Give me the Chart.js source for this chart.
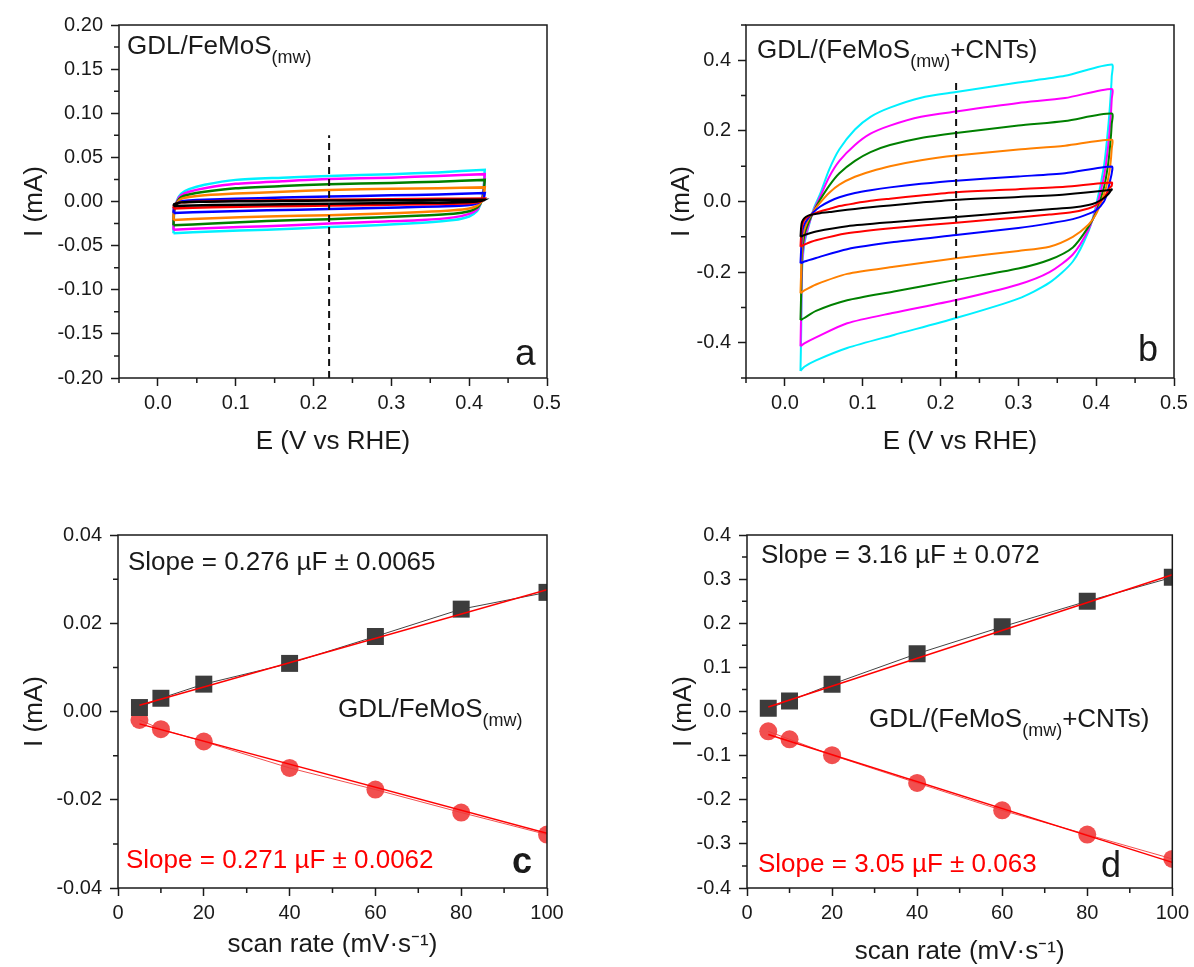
<!DOCTYPE html>
<html>
<head>
<meta charset="utf-8">
<title>CV and double-layer capacitance</title>
<script src="https://cdn.jsdelivr.net/npm/chart.js@4.4.1/dist/chart.umd.min.js"></script>
<style>
  body { margin: 0; background: #fff; }
  #wrap { position: relative; width: 1194px; height: 967px; }
  canvas { position: absolute; }
</style>
</head>
<body>
<div id="wrap">
  <canvas id="chart-a" width="597" height="483" style="left:0;top:0"></canvas>
  <canvas id="chart-b" width="597" height="483" style="left:597px;top:0"></canvas>
  <canvas id="chart-c" width="597" height="484" style="left:0;top:483px"></canvas>
  <canvas id="chart-d" width="597" height="484" style="left:597px;top:483px"></canvas>
</div>
<script>
  const FONT = '"Liberation Sans", Arial, sans-serif';
  const INK = "#1a1a1a";

  const scanRates = [5, 10, 20, 40, 60, 80, 100];
  const curveColors = ["#000000", "#ff0000", "#0000ff", "#ff8000", "#008000", "#ff00ff", "#00f0ff"];

  // panel a: GDL/FeMoS(mw), one loop per scan rate (mA)
  const aFwdE = [0.02, 0.021, 0.025, 0.03, 0.04, 0.06, 0.1, 0.16, 0.22, 0.3, 0.36, 0.42];
  const aFwdI = [
    [-0.005, -0.003, -0.002, -0.001, -0.0005, -0.0003, 0.0002, 0.0006, 0.001, 0.0014, 0.0017, 0.002],
    [-0.008, -0.004, -0.002, -0.001, -0.0005, 0.0, 0.0008, 0.0014, 0.002, 0.0026, 0.003, 0.0035],
    [-0.013, -0.005, -0.002, 0.0, 0.001, 0.002, 0.003, 0.0045, 0.0057, 0.007, 0.008, 0.0095],
    [-0.021, -0.008, -0.001, 0.003, 0.005, 0.007, 0.009, 0.011, 0.013, 0.0145, 0.015, 0.016],
    [-0.027, -0.009, 0.0, 0.005, 0.008, 0.011, 0.015, 0.0175, 0.0195, 0.021, 0.0225, 0.0245],
    [-0.032, -0.01, 0.001, 0.007, 0.011, 0.015, 0.02, 0.023, 0.0255, 0.027, 0.029, 0.031],
    [-0.036, -0.012, 0.002, 0.009, 0.014, 0.019, 0.0245, 0.027, 0.029, 0.031, 0.033, 0.036],
  ];
  const aRevE = [0.42, 0.419, 0.417, 0.414, 0.41, 0.4, 0.38, 0.34, 0.28, 0.22, 0.14, 0.07, 0.02];
  const aRevI = [
    [0.002, 0.0015, 0.001, 0.0005, 0.0, -0.0005, -0.001, -0.0015, -0.002, -0.0026, -0.0033, -0.004, -0.005],
    [0.0035, 0.002, 0.001, 0.0, -0.001, -0.002, -0.0025, -0.003, -0.004, -0.0045, -0.0055, -0.0065, -0.008],
    [0.0095, 0.005, 0.002, 0.0, -0.002, -0.004, -0.005, -0.006, -0.0075, -0.0085, -0.01, -0.0115, -0.013],
    [0.016, 0.008, 0.002, -0.002, -0.005, -0.008, -0.01, -0.012, -0.014, -0.0155, -0.017, -0.019, -0.021],
    [0.0245, 0.013, 0.003, -0.003, -0.007, -0.011, -0.014, -0.016, -0.018, -0.02, -0.022, -0.025, -0.027],
    [0.031, 0.017, 0.005, -0.003, -0.009, -0.014, -0.018, -0.021, -0.023, -0.025, -0.028, -0.03, -0.032],
    [0.036, 0.02, 0.006, -0.004, -0.011, -0.017, -0.021, -0.024, -0.027, -0.029, -0.032, -0.034, -0.036],
  ];
  const aDashI = [-0.2, 0.075];

  // panel b: GDL/(FeMoS(mw)+CNTs)
  const bFwdE = [0.02, 0.021, 0.022, 0.025, 0.03, 0.037, 0.045, 0.057, 0.07, 0.09, 0.11, 0.135, 0.175, 0.22, 0.3, 0.36, 0.42];
  const bFwdI = [
    [-0.1, -0.07, -0.058, -0.047, -0.04, -0.036, -0.033, -0.03, -0.026, -0.021, -0.016, -0.011, -0.003, 0.005, 0.013, 0.02, 0.033],
    [-0.128, -0.09, -0.07, -0.052, -0.042, -0.035, -0.028, -0.021, -0.013, -0.005, 0.002, 0.008, 0.017, 0.026, 0.035, 0.042, 0.054],
    [-0.175, -0.13, -0.09, -0.065, -0.047, -0.03, -0.015, 0.0, 0.012, 0.024, 0.032, 0.04, 0.05, 0.059, 0.071, 0.08, 0.099],
    [-0.26, -0.19, -0.12, -0.08, -0.052, -0.027, -0.004, 0.025, 0.048, 0.07, 0.085, 0.1, 0.117, 0.13, 0.147, 0.158, 0.175],
    [-0.336, -0.25, -0.15, -0.095, -0.062, -0.028, 0.004, 0.045, 0.08, 0.115, 0.14, 0.16, 0.18, 0.194, 0.215, 0.228, 0.249],
    [-0.41, -0.3, -0.18, -0.11, -0.07, -0.025, 0.012, 0.07, 0.115, 0.16, 0.192, 0.215, 0.24, 0.255, 0.279, 0.293, 0.319],
    [-0.48, -0.36, -0.2, -0.12, -0.075, -0.02, 0.02, 0.091, 0.148, 0.204, 0.24, 0.266, 0.294, 0.31, 0.337, 0.356, 0.388],
  ];
  const bRevE = [0.42, 0.418, 0.415, 0.41, 0.4, 0.39, 0.37, 0.34, 0.3, 0.22, 0.14, 0.08, 0.04, 0.025, 0.02];
  const bRevI = [
    [0.035, 0.028, 0.02, 0.01, -0.003, -0.01, -0.017, -0.022, -0.029, -0.044, -0.058, -0.07, -0.085, -0.095, -0.1],
    [0.045, 0.04, 0.03, 0.01, -0.01, -0.02, -0.03, -0.037, -0.045, -0.06, -0.075, -0.09, -0.11, -0.122, -0.128],
    [0.08, 0.06, 0.03, 0.0, -0.025, -0.035, -0.05, -0.062, -0.075, -0.095, -0.115, -0.135, -0.16, -0.17, -0.175],
    [0.15, 0.1, 0.06, 0.02, -0.035, -0.066, -0.1, -0.128, -0.14, -0.161, -0.185, -0.205, -0.235, -0.252, -0.26],
    [0.22, 0.16, 0.1, 0.04, -0.03, -0.072, -0.13, -0.165, -0.19, -0.222, -0.255, -0.28, -0.31, -0.33, -0.336],
    [0.29, 0.22, 0.15, 0.07, -0.02, -0.08, -0.15, -0.2, -0.235, -0.279, -0.315, -0.345, -0.385, -0.402, -0.41],
    [0.355, 0.28, 0.2, 0.1, -0.01, -0.085, -0.17, -0.23, -0.275, -0.33, -0.378, -0.415, -0.45, -0.468, -0.48],
  ];
  const bDashI = [-0.5, 0.34];
  const dashE = 0.22;

  // panels c, d: current at 0.22 V vs scan rate, with linear fits
  const cAnodic = [0.0009, 0.003, 0.0062, 0.0109, 0.017, 0.0232, 0.027];
  const cCathodic = [-0.0019, -0.004, -0.0068, -0.0128, -0.0177, -0.0229, -0.0279];
  const dAnodic = [0.0075, 0.024, 0.062, 0.131, 0.192, 0.25, 0.304];
  const dCathodic = [-0.045, -0.063, -0.099, -0.162, -0.224, -0.279, -0.334];
  const fitRates = [5, 100];
  const cFitAnodic = [0.0014, 0.0276];
  const cFitCathodic = [-0.0028, -0.0276];
  const dFitAnodic = [0.01, 0.31];
  const dFitCathodic = [-0.052, -0.342];

  // tick labels
  const eTicks = [0, 0.1, 0.2, 0.3, 0.4, 0.5];
  const eMinor = [-0.05, 0.05, 0.15, 0.25, 0.35, 0.45];
  const aTicksY = [-0.2, -0.15, -0.1, -0.05, 0, 0.05, 0.1, 0.15, 0.2];
  const aMinorY = [-0.175, -0.125, -0.075, -0.025, 0.025, 0.075, 0.125, 0.175];
  const bTicksY = [-0.4, -0.2, 0, 0.2, 0.4];
  const bMinorY = [-0.5, -0.3, -0.1, 0.1, 0.3, 0.5];
  const rateTicks = [0, 20, 40, 60, 80, 100];
  const rateMinor = [10, 30, 50, 70, 90];
  const cTicksY = [-0.04, -0.02, 0, 0.02, 0.04];
  const cMinorY = [-0.03, -0.01, 0.01, 0.03];
  const dTicksY = [-0.4, -0.3, -0.2, -0.1, 0, 0.1, 0.2, 0.3, 0.4];
  const dMinorY = [-0.35, -0.25, -0.15, -0.05, 0.05, 0.15, 0.25, 0.35];

  Chart.defaults.font.family = FONT;
  Chart.defaults.color = INK;

  // box round the plot area plus the short minor ticks
  const frame = {
    id: "frame",
    afterDraw(chart, args, opts) {
      const { ctx, chartArea: a } = chart;
      const xs = chart.scales.x;
      const ys = chart.scales.y;
      ctx.save();
      ctx.strokeStyle = INK;
      ctx.lineWidth = 1.5;
      ctx.strokeRect(a.left, a.top, a.right - a.left, a.bottom - a.top);
      ctx.beginPath();
      opts.minorX.forEach((v) => {
        const px = xs.getPixelForValue(v);
        ctx.moveTo(px, a.bottom);
        ctx.lineTo(px, a.bottom + 5);
      });
      opts.minorY.forEach((v) => {
        const py = ys.getPixelForValue(v);
        ctx.moveTo(a.left, py);
        ctx.lineTo(a.left - 5, py);
      });
      ctx.stroke();
      ctx.restore();
    },
  };

  // in-plot captions with sub/superscript pieces
  const captions = {
    id: "captions",
    afterDraw(chart, args, opts) {
      const ctx = chart.ctx;
      ctx.save();
      ctx.textBaseline = "alphabetic";
      opts.items.forEach((item) => {
        let x = item.x;
        ctx.fillStyle = item.color || INK;
        item.parts.forEach((p) => {
          ctx.font = `${p.bold ? "bold " : ""}${p.size}px ${FONT}`;
          ctx.fillText(p.t, x, item.y + (p.dy || 0));
          x += ctx.measureText(p.t).width;
        });
      });
      ctx.restore();
    },
  };

  function axis(cfg) {
    return {
      type: "linear",
      min: cfg.min,
      max: cfg.max,
      afterBuildTicks: (scale) => {
        scale.ticks = cfg.ticks.map((v) => ({ value: v }));
      },
      afterFit: (scale) => {
        if (scale.isHorizontal()) {
          scale.height = cfg.size;
        } else {
          scale.width = cfg.size;
        }
      },
      ticks: {
        callback: (v) => (cfg.digits === 0 ? String(Math.round(v)) : Number(v).toFixed(cfg.digits)),
        font: { size: 20 },
        color: INK,
        padding: cfg.tickPad,
        maxRotation: 0,
        autoSkip: false,
      },
      grid: {
        drawOnChartArea: false,
        tickLength: 8,
        tickWidth: 1.5,
        tickColor: INK,
      },
      border: { display: false },
      title: {
        display: true,
        text: cfg.title,
        font: { size: 26 },
        color: INK,
        padding: cfg.titlePad,
      },
    };
  }

  function loop(fwdE, fwdI, revE, revI) {
    const pts = fwdE.map((e, i) => ({ x: e, y: fwdI[i] }));
    return pts.concat(revE.map((e, i) => ({ x: e, y: revI[i] })));
  }

  function cvDatasets(fwdE, fwdI, revE, revI, dashI, width) {
    const sets = [
      {
        data: dashI.map((v) => ({ x: dashE, y: v })),
        borderColor: "#111",
        borderWidth: 2,
        borderDash: [7, 5],
        pointRadius: 0,
        showLine: true,
      },
    ];
    scanRates.forEach((rate, i) => {
      sets.push({
        label: rate + " mV/s",
        data: loop(fwdE, fwdI[i], revE, revI[i]),
        borderColor: curveColors[i],
        borderWidth: width,
        pointRadius: 0,
        showLine: true,
        tension: 0.25,
      });
    });
    return sets;
  }

  function rateDatasets(anodic, cathodic, fitA, fitC) {
    const toPts = (xs, ys) => xs.map((x, i) => ({ x, y: ys[i] }));
    return [
      { data: toPts(fitRates, fitA), borderColor: "#ff0000", borderWidth: 1.5, pointRadius: 0, showLine: true },
      { data: toPts(fitRates, fitC), borderColor: "#ff0000", borderWidth: 1.5, pointRadius: 0, showLine: true },
      {
        data: toPts(scanRates, anodic),
        borderColor: "#444",
        borderWidth: 1,
        showLine: true,
        pointStyle: "rect",
        pointRadius: 12,
        pointBorderWidth: 0,
        pointBackgroundColor: "#3c3c3c",
      },
      {
        data: toPts(scanRates, cathodic),
        borderColor: "rgba(240,60,60,0.9)",
        borderWidth: 1,
        showLine: true,
        pointStyle: "circle",
        pointRadius: 9,
        pointBorderWidth: 0,
        pointBackgroundColor: "rgba(240,60,60,0.9)",
      },
    ];
  }

  function makeChart(id, datasets, scales, padding, frameOpts, items) {
    return new Chart(document.getElementById(id), {
      type: "scatter",
      data: { datasets },
      options: {
        responsive: false,
        animation: false,
        layout: { padding },
        scales,
        plugins: {
          legend: { display: false },
          tooltip: { enabled: false },
          frame: frameOpts,
          captions: { items },
        },
      },
      plugins: [frame, captions],
    });
  }

  const subMw = { t: "(mw)", size: 18, dy: 9 };

  makeChart(
    "chart-a",
    cvDatasets(aFwdE, aFwdI, aRevE, aRevI, aDashI, 2.5),
    {
      x: axis({ min: -0.05, max: 0.5, ticks: eTicks, digits: 1, size: 105, tickPad: 5, title: "E (V vs RHE)", titlePad: { top: 0, bottom: 26 } }),
      y: axis({ min: -0.2, max: 0.2, ticks: aTicksY, digits: 2, size: 119, tickPad: 8, title: "I (mA)", titlePad: { top: 19, bottom: 0 } }),
    },
    { left: 0, right: 50, top: 25, bottom: 0 },
    { minorX: eMinor, minorY: aMinorY },
    [
      { x: 127, y: 54, parts: [{ t: "GDL/FeMoS", size: 26 }, subMw] },
      { x: 515, y: 365, parts: [{ t: "a", size: 37 }] },
    ]
  );

  makeChart(
    "chart-b",
    cvDatasets(bFwdE, bFwdI, bRevE, bRevI, bDashI, 2),
    {
      x: axis({ min: -0.05, max: 0.5, ticks: eTicks, digits: 1, size: 105, tickPad: 5, title: "E (V vs RHE)", titlePad: { top: 0, bottom: 26 } }),
      y: axis({ min: -0.5, max: 0.5, ticks: bTicksY, digits: 1, size: 149, tickPad: 7, title: "I (mA)", titlePad: { top: 69, bottom: 0 } }),
    },
    { left: 0, right: 20, top: 25, bottom: 0 },
    { minorX: eMinor, minorY: bMinorY },
    [
      { x: 160, y: 58, parts: [{ t: "GDL/(FeMoS", size: 26 }, subMw, { t: "+CNTs)", size: 26 }] },
      { x: 541, y: 361, parts: [{ t: "b", size: 36 }] },
    ]
  );

  makeChart(
    "chart-c",
    rateDatasets(cAnodic, cCathodic, cFitAnodic, cFitCathodic),
    {
      x: axis({ min: 0, max: 100, ticks: rateTicks, digits: 0, size: 79, tickPad: 5, title: "scan rate (mV·s⁻¹)", titlePad: { top: 0, bottom: 7 } }),
      y: axis({ min: -0.04, max: 0.04, ticks: cTicksY, digits: 2, size: 118, tickPad: 8, title: "I (mA)", titlePad: { top: 19, bottom: 0 } }),
    },
    { left: 0, right: 50, top: 52, bottom: 0 },
    { minorX: rateMinor, minorY: cMinorY },
    [
      { x: 128, y: 87, parts: [{ t: "Slope = 0.276 µF ± 0.0065", size: 26 }] },
      { x: 338, y: 234, parts: [{ t: "GDL/FeMoS", size: 26 }, subMw] },
      { x: 126, y: 385, color: "#ff0000", parts: [{ t: "Slope = 0.271 µF ± 0.0062", size: 26 }] },
      { x: 512, y: 390, parts: [{ t: "c", size: 36, bold: true }] },
    ]
  );

  makeChart(
    "chart-d",
    rateDatasets(dAnodic, dCathodic, dFitAnodic, dFitCathodic),
    {
      x: axis({ min: 0, max: 100, ticks: rateTicks, digits: 0, size: 79, tickPad: 5, title: "scan rate (mV·s⁻¹)", titlePad: { top: 0, bottom: 0 } }),
      y: axis({ min: -0.4, max: 0.4, ticks: dTicksY, digits: 1, size: 150, tickPad: 8, title: "I (mA)", titlePad: { top: 71, bottom: 0 } }),
    },
    { left: 0, right: 20, top: 52, bottom: 0 },
    { minorX: rateMinor, minorY: dMinorY },
    [
      { x: 164, y: 80, parts: [{ t: "Slope = 3.16 µF ± 0.072", size: 26 }] },
      { x: 272, y: 244, parts: [{ t: "GDL/(FeMoS", size: 26 }, subMw, { t: "+CNTs)", size: 26 }] },
      { x: 161, y: 389, color: "#ff0000", parts: [{ t: "Slope = 3.05 µF ± 0.063", size: 26 }] },
      { x: 504, y: 394, parts: [{ t: "d", size: 36 }] },
    ]
  );
</script>
</body>
</html>
